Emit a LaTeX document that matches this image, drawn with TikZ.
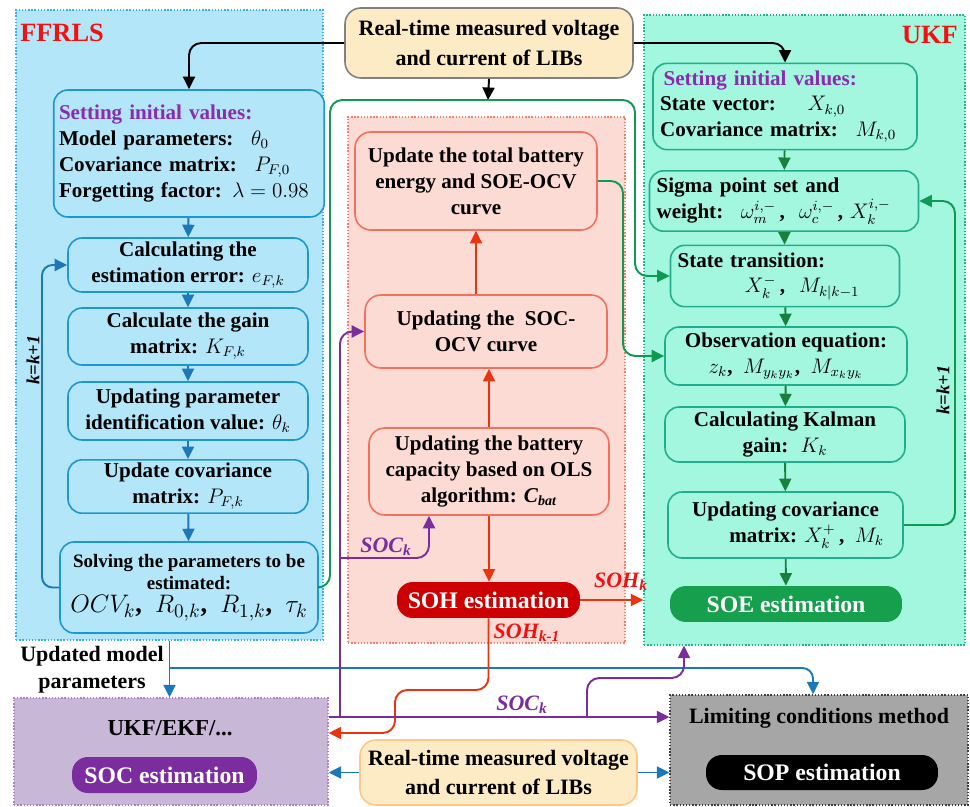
\documentclass[tikz,border=0pt]{standalone}
\usepackage{fontspec}
\setmainfont{Liberation Serif}
\usepackage{amsmath, amssymb}
\usetikzlibrary{arrows.meta, positioning, calc}

\definecolor{ffrlsfill}{HTML}{B3E6F9}
\definecolor{ffrlsline}{HTML}{3AAEE0}
\definecolor{ffrlsbox}{HTML}{1E96CF}
\definecolor{ffrlsarrow}{HTML}{1C78B8}
\definecolor{ukffill}{HTML}{A2F7DE}
\definecolor{ukfline}{HTML}{1DB39A}
\definecolor{ukfbox}{HTML}{22AE8C}
\definecolor{ukfarrow}{HTML}{17803A}
\definecolor{loopgreen}{HTML}{0E9A52}
\definecolor{sohfill}{HTML}{FDDBD5}
\definecolor{sohline}{HTML}{F2806E}
\definecolor{sohbox}{HTML}{F2705E}
\definecolor{soharrow}{HTML}{E8340F}
\definecolor{sohdark}{HTML}{CC0000}
\definecolor{soedark}{HTML}{16A04E}
\definecolor{socpurple}{HTML}{7B2C9E}
\definecolor{socfill}{HTML}{C9B7D8}
\definecolor{measfill}{HTML}{FCEBC5}
\definecolor{setpurple}{HTML}{8A2BB0}
\definecolor{sopgray}{HTML}{A6A6A6}
\definecolor{labelred}{HTML}{F21010}

\begin{document}
\begin{tikzpicture}[
    x=0.02cm, y=-0.02cm,
    font=\bfseries\fontsize{12pt}{14.7pt}\selectfont,
    >={Triangle[length=2.5mm, width=2.4mm]},
    region/.style={draw, densely dotted, line width=0.8pt, inner sep=0pt},
    meas/.style={fill=measfill, rounded corners=9pt, line width=0.9pt, align=center, font=\bfseries\fontsize{12.5pt}{17pt}\selectfont},
    fbox/.style={draw=ffrlsbox, fill=ffrlsfill, line width=0.9pt, rounded corners=8pt, align=center, minimum width=4.8cm, inner sep=2pt},
    ubox/.style={draw=ukfbox, fill=ukffill, line width=0.9pt, rounded corners=8pt, align=center, inner sep=2pt},
    rbox/.style={draw=sohbox, fill=sohfill, line width=0.9pt, rounded corners=9pt, align=center, inner sep=2pt},
    estim/.style={rounded corners=9pt, text=white, align=center, font=\bfseries\fontsize{13.5pt}{16pt}\selectfont},
    tag/.style={font=\bfseries\itshape\fontsize{12.5pt}{14pt}\selectfont},
    farrow/.style={->, draw=ffrlsarrow, line width=1.1pt, rounded corners=6pt},
    uarrow/.style={->, draw=ukfarrow, line width=1.1pt, rounded corners=6pt},
    garrow/.style={->, draw=loopgreen, line width=1.1pt, rounded corners=7pt},
    rarrow/.style={->, draw=soharrow, line width=1.1pt, rounded corners=7pt},
    parrow/.style={->, draw=socpurple, line width=1.1pt, rounded corners=7pt},
    karrow/.style={->, draw=black, line width=1.1pt, rounded corners=7pt}
]

\useasboundingbox (0,0) rectangle (970,807);

% background regions
\node[region, draw=ffrlsline, fill=ffrlsfill, minimum width=6.14cm, minimum height=12.6cm] (ffrlsbg) at (169.5,325) {};
\node[region, draw=sohline, fill=sohfill, minimum width=5.54cm, minimum height=10.52cm] (sohbg) at (486.5,380) {};
\node[region, draw=ukfline, fill=ukffill, minimum width=6.42cm, minimum height=12.6cm] (ukfbg) at (804.5,330) {};
\node[region, draw=socpurple!60, fill=socfill, minimum width=6.28cm, minimum height=2.14cm] (socbg) at (171,751.5) {};
\node[region, draw=gray!50!black, fill=sopgray, minimum width=5.96cm, minimum height=2.2cm] (sopbg) at (819,750) {};

\node[text=labelred, font=\bfseries\fontsize{15pt}{17pt}\selectfont] (ffrlslabel) at (62,33) {FFRLS};
\node[text=labelred, font=\bfseries\fontsize{15pt}{17pt}\selectfont] (ukflabel) at (930,35) {UKF};

% measurement boxes
\node[meas, draw=gray, minimum width=5.76cm, minimum height=1.4cm] (meas) at (489,43) {Real-time measured voltage\\and current of LIBs};
\node[meas, draw=orange!45, minimum width=5.54cm, minimum height=1.3cm] (meas2) at (498.5,772.5) {Real-time measured voltage\\and current of LIBs};

% FFRLS
\node[fbox, align=left, text width=5.2cm, minimum height=2.54cm, inner sep=3pt] (finit) at (189,153.5) {{\color{setpurple}Setting initial values:}\\Model parameters: \ $\theta_0$\\Covariance matrix: \ $P_{F,0}$\\Forgetting factor: $\lambda=0.98$};
\node[fbox, minimum height=1.08cm] (ferr) at (188,265) {Calculating the\\estimation error: $e_{F,k}$};
\node[fbox, minimum height=1.14cm] (fgain) at (188,336.5) {Calculate the gain\\matrix: $K_{F,k}$};
\node[fbox, minimum height=1.16cm] (fpar) at (188,411) {Updating parameter\\identification value: $\theta_k$};
\node[fbox, minimum height=1.06cm] (fcov) at (188,486.5) {Update covariance\\matrix: $P_{F,k}$};
\node[fbox, minimum width=5.16cm, minimum height=1.82cm, font=\bfseries\fontsize{10.8pt}{13pt}\selectfont] (fsolve) at (189,587.5) {Solving the parameters to be\\estimated:\\{\fontsize{15pt}{18pt}\selectfont $OCV_k$, \ $R_{0,k}$, \ $R_{1,k}$, \ $\tau_k$}};

\draw[farrow] (finit) -- (ferr);
\draw[farrow] (ferr) -- (fgain);
\draw[farrow] (fgain) -- (fpar);
\draw[farrow] (fpar) -- (fcov);
\draw[farrow] (fcov) -- (fsolve);
\coordinate (floop) at (42,265);
\draw[farrow] (fsolve.west) -| (floop) -- (ferr.west);
\node[rotate=90, font=\bfseries\itshape\fontsize{10.5pt}{12pt}\selectfont] (kleft) at (33,360) {k=k+1};

% SOH part
\node[rbox, minimum width=4.84cm, minimum height=1.96cm] (renergy) at (476,181) {Update the total battery\\energy and SOE-OCV\\curve};
\node[rbox, minimum width=4.84cm, minimum height=1.46cm] (rsococv) at (486,331.5) {Updating the \ SOC-\\OCV curve};
\node[rbox, minimum width=4.8cm, minimum height=1.74cm] (rcap) at (489,471.5) {Updating the battery\\capacity based on OLS\\algorithm: \textit{C}\textsubscript{\textit{bat}}};
\node[estim, fill=sohdark, minimum width=3.66cm, minimum height=0.72cm] (soh) at (488.5,600) {SOH estimation};

\draw[rarrow] (rcap.north) -- (rcap.north |- rsococv.south);
\draw[rarrow] (renergy.south |- rsococv.north) -- (renergy.south);
\draw[rarrow] (rcap.south) -- (rcap.south |- soh.north);
\draw[rarrow] (soh.east) -- (soh.east -| ukfbg.west);
\node[tag, text=labelred] (sohk) at (621,582) {SOH\textsubscript{\textit{k}}};

% UKF
\node[ubox, align=left, text width=5.0cm, minimum height=1.66cm, inner sep=4pt] (uinit) at (785,106.5) {{\color{setpurple}\,Setting initial values:}\\State vector: \quad $X_{k,0}$\\Covariance matrix: \ $M_{k,0}$};
\node[ubox, align=left, text width=5.1cm, minimum height=1.16cm, inner sep=4pt] (usigma) at (784,201) {Sigma point set and\\weight: \ $\omega_m^{i,-}$\,, \ $\omega_c^{i,-}$\,, $X_k^{i,-}$};
\node[ubox, align=left, text width=4.3cm, minimum height=1.04cm, inner sep=4pt] (utrans) at (785,276) {State transition:\\\hspace*{3.2em}$X_k^-$\,, \ $M_{k|k-1}$};
\node[ubox, minimum width=4.84cm, minimum height=1.16cm] (uobs) at (786,356) {Observation equation:\\$z_k$, \ $M_{y_ky_k}$, \ $M_{x_ky_k}$};
\node[ubox, minimum width=4.8cm, minimum height=1.1cm] (ukal) at (785,434.5) {Calculating Kalman\\gain: \ $K_k$};
\node[ubox, minimum width=4.7cm, minimum height=1.32cm] (ucov) at (785.5,525) {Updating covariance\\\hspace*{2em}matrix: $X_k^+$\,, \ $M_k$};
\node[estim, fill=soedark, minimum width=4.64cm, minimum height=0.72cm] (soe) at (786,604) {SOE estimation};

\draw[uarrow] (uinit) -- (usigma);
\draw[uarrow] (usigma) -- (utrans);
\draw[uarrow] (utrans) -- (uobs);
\draw[uarrow] (uobs) -- (ukal);
\draw[uarrow] (ukal) -- (ucov);
\draw[uarrow] (ucov) -- (soe);
\coordinate (uloop) at (955,201);
\draw[garrow] (ucov.east) -| (uloop) -- (usigma.east);
\node[rotate=90, font=\bfseries\itshape\fontsize{10.5pt}{12pt}\selectfont] (kright) at (943,390) {k=k+1};

% measurements into both filters
\coordinate (gtop) at (488,100);
\draw[karrow] (meas.west) -| (finit.north);
\draw[karrow] (meas.east) -| (uinit.north);
\draw[karrow] (meas.south) -- (gtop);

% parameters and energy into UKF
\coordinate (gleft) at (330,100);
\coordinate (gright) at (635,100);
\draw[garrow] (fsolve.east) -| (gleft) -- (gright) |- (utrans.west);
\coordinate (ginner) at (623,181);
\draw[garrow] (renergy.east) -- (ginner) |- (uobs.west);

% bottom part
\node[estim, fill=socpurple, minimum width=3.7cm, minimum height=0.72cm] (soc) at (164.5,775) {SOC estimation};
\node[estim, fill=black, minimum width=4.64cm, minimum height=0.7cm] (sop) at (822,772.5) {SOP estimation};
\node[font=\bfseries\fontsize{13pt}{15pt}\selectfont] (ukfekf) at (170,728) {UKF/EKF/...};
\node[font=\bfseries\fontsize{12.5pt}{15pt}\selectfont] (limit) at (819,718) {Limiting conditions method};
\node[align=center, font=\bfseries\fontsize{12.5pt}{15.5pt}\selectfont] (updated) at (92,670) {Updated model\\parameters};

\draw[farrow] (ffrlsbg.south) -- (ffrlsbg.south |- socbg.north);
\coordinate (bjoin) at (170,668);
\draw[farrow] (bjoin) -| ([xshift=-0.12cm]sopbg.north);
\draw[farrow] (meas2.west) -- (meas2.west -| socbg.east);
\draw[farrow] (meas2.east) -- (meas2.east -| sopbg.west);

\coordinate (rbend) at (395,690);
\draw[rarrow] (soh.south) |- (rbend) |- ([yshift=0.37cm]socbg.east);
\node[tag, text=labelred] (sohk1) at (527,633) {SOH\textsubscript{\textit{k-1}}};

\draw[parrow] ([yshift=0.69cm]socbg.east) -- ([yshift=0.69cm]socbg.east -| sopbg.west);
\coordinate (pvert) at (340,717);
\draw[parrow] (pvert) |- (rsococv.west);
\coordinate (pcap) at (340,558);
\draw[parrow] (pcap) -| ([xshift=-1.2cm]rcap.south);
\node[tag, text=socpurple] (sock) at (386,547) {SOC\textsubscript{\textit{k}}};
\coordinate (pup) at (587,717);
\coordinate (pbend) at (684,678);
\draw[parrow] (pup) |- (pbend) -- (pbend |- ukfbg.south);
\node[tag, text=socpurple] (sock2) at (522,705) {SOC\textsubscript{\textit{k}}};

\end{tikzpicture}
\end{document}
